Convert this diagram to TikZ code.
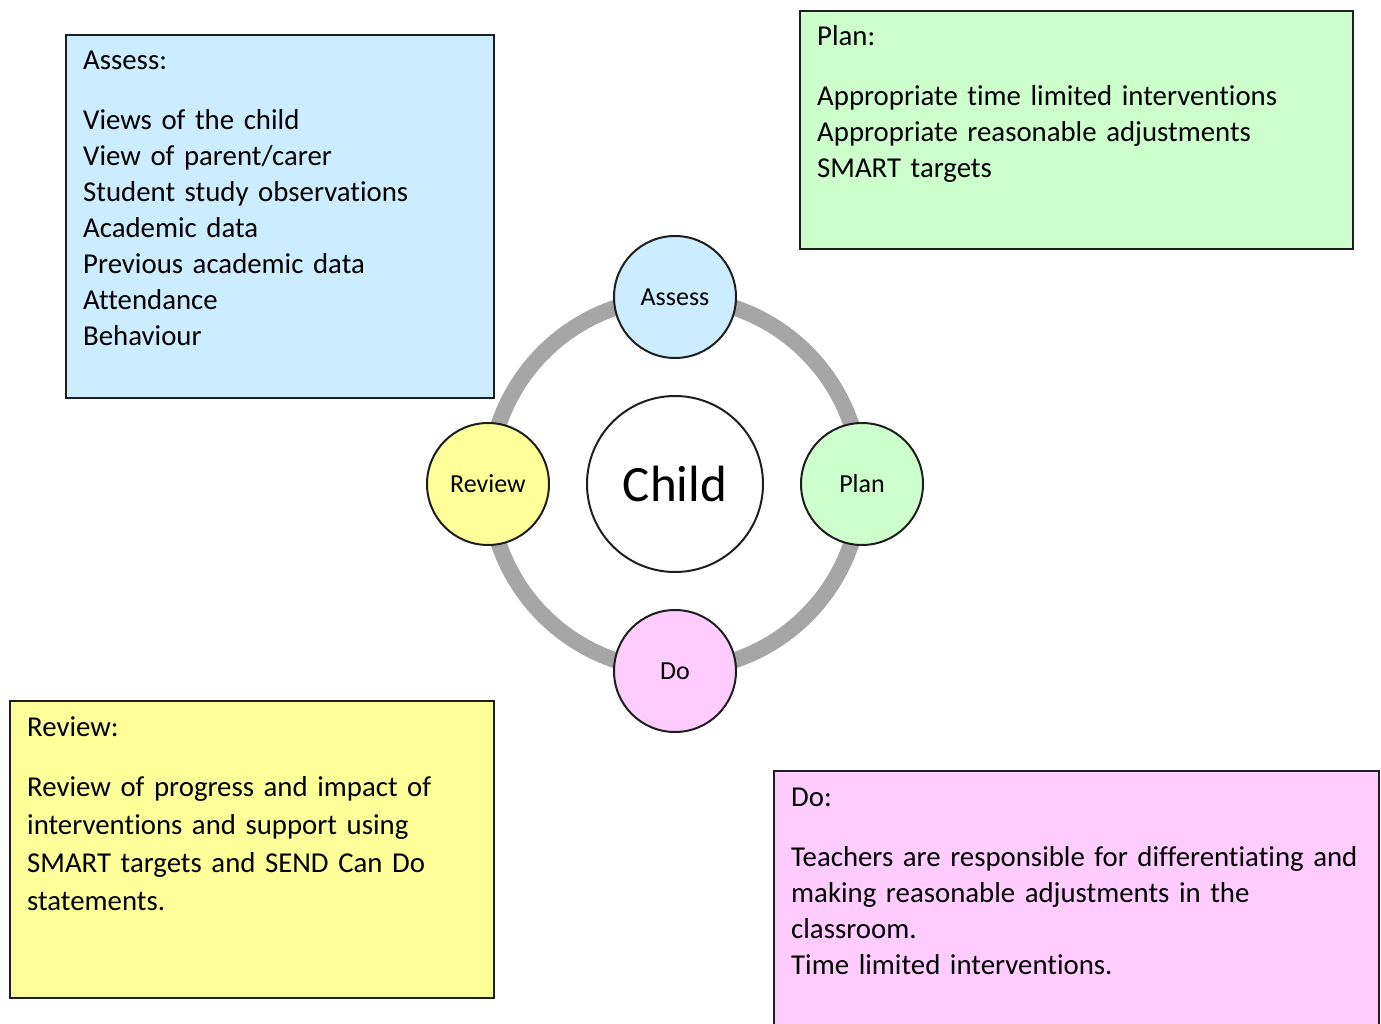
\documentclass[tikz,border=0pt]{standalone}
\usepackage{fontspec}
\setmainfont{Carlito}[WordSpace=0.85,Ligatures=NoCommon]
\usetikzlibrary{positioning}
\definecolor{AssessBlue}{RGB}{204,236,255}
\definecolor{PlanGreen}{RGB}{204,255,204}
\definecolor{ReviewYellow}{RGB}{255,255,153}
\definecolor{DoPink}{RGB}{255,204,255}
\definecolor{RingGrey}{RGB}{166,166,166}
\definecolor{EdgeDark}{RGB}{30,30,30}

\begin{document}
\begin{tikzpicture}[x=1pt,y=-1pt,
    stage/.style={circle,draw=EdgeDark,line width=2pt,minimum size=122pt,inner sep=0pt,font=\fontsize{26}{30}\selectfont},
    notebox/.style={draw=EdgeDark,line width=2pt,anchor=north west,inner sep=0pt},
    notetext/.style={anchor=base west,inner sep=0pt,align=left,text width=600pt,font=\fontsize{28.8}{36}\selectfont}]
  \useasboundingbox (0,0) rectangle (1381,1024);
  % cycle round the child
  \coordinate (hub) at (675,484);
  \draw[line width=16pt,RingGrey] (hub) circle[radius=186];
  \node[circle,draw=EdgeDark,line width=2pt,fill=white,minimum size=176pt,font=\fontsize{51}{56}\selectfont] (child) at (hub) {Child};
  \node[stage,fill=AssessBlue,above=36pt of child] (assess) {Assess};
  \node[stage,fill=PlanGreen,right=36pt of child] (plan) {Plan};
  \node[stage,fill=DoPink,below=36pt of child] (do) {Do};
  \node[stage,fill=ReviewYellow,left=36pt of child] (review) {Review};
  % notes
  \node[notebox,fill=AssessBlue,minimum width=428pt,minimum height=363pt] (assessbox) at (65,34) {};
  \node[notetext,xshift=18pt,yshift=-36pt] (assesstext) at (assessbox.north west)
    {Assess:\\[24pt]
     Views of the child\\
     View of parent/carer\\
     Student study observations\\
     Academic data\\
     Previous academic data\\
     Attendance\\
     Behaviour};
  \node[notebox,fill=PlanGreen,minimum width=553pt,minimum height=238pt] (planbox) at (799,10) {};
  \node[notetext,xshift=18pt,yshift=-36pt] (plantext) at (planbox.north west)
    {Plan:\\[24pt]
     Appropriate time limited interventions\\
     Appropriate reasonable adjustments\\
     SMART targets};
  \node[notebox,fill=ReviewYellow,minimum width=484pt,minimum height=297pt] (reviewbox) at (9,700) {};
  \node[notetext,font=\fontsize{28.8}{38}\selectfont,xshift=18pt,yshift=-36pt] (reviewtext) at (reviewbox.north west)
    {Review:\\[22pt]
     Review of progress and impact of\\
     interventions and support using\\
     SMART targets and SEND Can Do\\
     statements.};
  \node[notebox,fill=DoPink,minimum width=605pt,minimum height=270pt] (dobox) at (773,770) {};
  \node[notetext,xshift=18pt,yshift=-36pt] (dotext) at (dobox.north west)
    {Do:\\[24pt]
     Teachers are responsible for differentiating and\\
     making reasonable adjustments in the\\
     classroom.\\
     Time limited interventions.};
\end{tikzpicture}
\end{document}
